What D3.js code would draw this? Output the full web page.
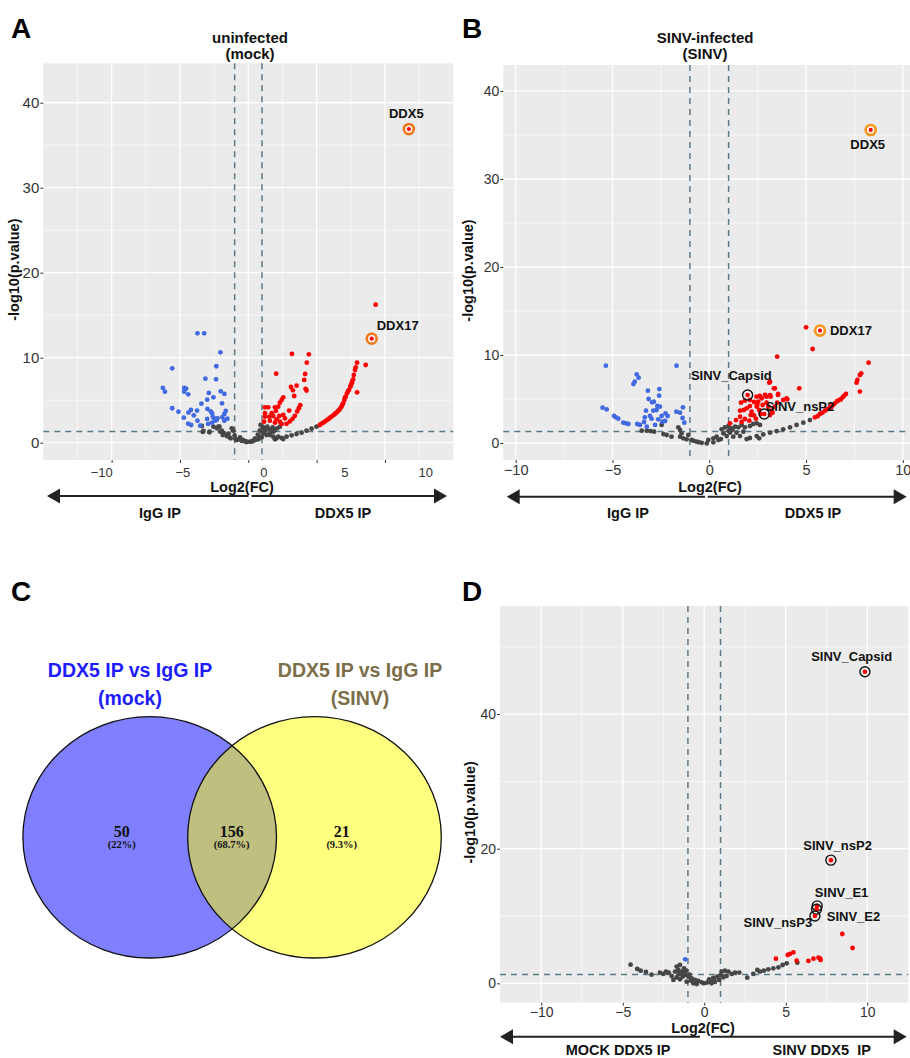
<!DOCTYPE html>
<html>
<head>
<meta charset="utf-8">
<script src="https://cdn.jsdelivr.net/npm/d3@7"></script>
<style>
body { margin: 0; background: #fff; }
svg { display: block; font-family: "Liberation Sans", Arial, sans-serif; }
</style>
</head>
<body>
<svg id="fig" width="910" height="1058"></svg>
<script>
// ---- thresholds ----
const fcCut = 1;
const pCut = 1.3;

// ---- panel A: uninfected (mock), [log2FC, -log10 p] ----
const mockGray = [
	[-3.40,1.96],[-3.33,1.26],[-2.85,1.22],[-2.19,1.88],[-2.07,1.30],[-1.87,0.90],[-1.58,0.78],[-1.29,0.51],
	[-0.85,0.31],[-0.48,0.20],[-0.11,0.08],[0.13,0.12],[0.49,0.31],[0.74,0.39],[0.98,0.63],[1.10,1.10],
	[1.22,1.41],[1.34,1.69],[1.59,0.90],[1.83,0.71],[2.07,0.51],[2.56,0.43],[-3.28,1.37],[-2.84,1.29],
	[-2.55,1.88],[-2.31,1.69],[-2.11,1.88],[-1.94,1.41],[-1.77,1.10],[-1.38,0.63],[-1.21,1.69],[-1.09,1.41],
	[-0.60,0.63],[-0.36,0.31],[-0.12,0.12],[0.24,0.12],[0.61,0.39],[0.90,2.08],[1.05,1.88],[1.22,1.69],
	[1.39,1.88],[1.58,1.57],[1.78,1.80],[1.95,1.49],[2.12,1.69],[2.31,1.88],[0.98,1.29],[1.15,1.10],
	[1.34,0.90],[1.58,1.10],[1.83,1.29],[0.81,0.71],[0.49,0.51],[0.37,0.24],[1.95,0.39],[2.19,0.71],
	[2.44,0.55],[2.80,0.71],[3.17,0.86],[3.53,1.02],[3.90,1.18],[4.26,1.41],[4.63,1.65],[4.99,1.88],
	[-0.95,0.45],[-0.70,0.38],[-0.25,0.15],[0.35,0.22],[0.70,0.95],[0.85,1.45],[-1.00,0.85],[-1.45,1.05]
];
const mockBlue = [
	[-3.72,12.87],[-3.23,12.87],[-2.04,10.63],[-5.57,8.75],[-2.34,8.99],[-3.14,7.53],[-2.36,7.45],[-6.25,6.44],
	[-6.10,6.00],[-4.69,6.44],[-4.55,6.36],[-4.69,6.00],[-4.40,5.69],[-2.02,6.04],[-1.75,5.73],[-2.89,5.85],
	[-2.55,5.34],[-3.01,5.06],[-3.43,4.59],[-1.92,4.63],[-5.57,4.05],[-5.11,3.65],[-2.99,3.97],[-4.20,3.85],
	[-4.38,3.54],[-3.75,3.77],[-3.99,3.22],[-2.75,3.69],[-2.65,3.46],[-1.65,3.73],[-1.75,3.38],[-4.72,2.94],
	[-3.72,2.59],[-3.01,2.79],[-2.60,3.07],[-2.50,2.86],[-2.31,2.67],[-2.26,2.86],[-2.43,2.59],[-1.90,3.00],
	[-1.53,2.82],[-1.75,2.59],[-4.40,2.24],[-4.18,2.08],[-3.52,2.00],[-2.94,2.20],[-2.65,2.35]
];
const mockRed = [
	[9.32,16.24],[3.19,10.44],[4.43,10.40],[4.28,9.41],[4.16,8.08],[4.09,7.38],[2.04,8.12],[4.19,6.33],
	[4.26,6.14],[3.12,6.55],[3.53,6.71],[3.26,6.16],[3.36,5.49],[2.56,5.33],[2.44,5.02],[2.31,4.71],
	[3.80,4.41],[3.70,4.06],[3.58,3.67],[3.41,3.16],[3.24,2.81],[3.04,2.50],[2.80,2.22],[1.22,4.16],
	[1.46,4.16],[1.95,4.16],[2.19,4.24],[2.99,3.77],[2.02,3.73],[1.71,3.46],[1.83,3.14],[2.27,3.14],
	[1.54,3.06],[1.22,3.06],[2.56,3.26],[2.68,2.86],[2.07,2.75],[1.58,2.59],[1.15,2.47],[2.31,2.47],
	[1.95,2.35],[2.44,2.20],[1.22,3.46],
	[7.96,9.41],[7.86,8.86],[7.81,8.55],[8.59,9.14],[7.72,7.96],[7.67,7.45],[7.57,6.98],[7.47,6.59],
	[7.96,5.92],[7.37,6.20],[7.22,5.81],[7.13,5.41],[7.03,5.02],[6.94,4.63],[6.82,4.24],[6.65,3.84],
	[6.45,3.53],[6.25,3.26],[6.01,2.98],[5.77,2.67],[5.48,2.35],[5.23,2.08],[7.30,6.05],[7.08,5.30],
	[6.88,4.45],[6.72,4.00],[6.55,3.70],[6.35,3.40],[6.12,3.10],[5.90,2.82],[5.62,2.50],[5.35,2.22],
	[7.50,6.75],[7.60,7.20]
];
const mockHits = [
	{ gene: 'DDX5', x: 11.75, y: 36.9 },
	{ gene: 'DDX17', x: 9.03, y: 12.24 }
];

// ---- panel B: SINV-infected ----
const sinvGray = [
	[-3.49,1.40],[-3.23,1.40],[-3.03,1.36],[-2.85,1.29],[-2.46,2.05],[-2.37,1.02],[-2.20,0.91],[-1.95,0.72],
	[-1.60,1.78],[-1.51,1.48],[-1.43,1.10],[-1.51,0.72],[-1.34,0.53],[-1.17,0.42],[-1.08,0.91],[-0.91,0.34],
	[-0.65,0.15],[-0.39,0.02],[-0.13,-0.05],[0.21,0.08],[0.47,0.34],[0.64,1.55],[0.81,1.78],[0.99,1.93],
	[1.16,1.67],[1.33,1.86],[1.50,1.78],[1.67,2.05],[1.84,1.78],[2.10,1.93],[2.27,2.16],[2.45,2.24],
	[2.62,2.05],[0.73,1.10],[1.07,1.17],[1.41,1.17],[1.76,1.29],[0.38,0.72],[0.21,0.53],[0.90,0.79],
	[1.24,0.72],[1.59,0.79],[-0.05,0.34],[1.93,0.45],[2.58,0.53],[2.10,0.57],[2.45,0.79],[2.79,0.98],
	[3.14,1.17],[3.48,1.36],[3.82,1.55],[4.17,1.78],[4.51,2.05],[4.86,2.31],[5.20,2.61],
	[-0.80,0.25],[-0.55,0.10],[0.60,0.45],[1.00,1.40],[1.20,1.50]
];
const sinvBlue = [
	[-5.34,8.79],[-1.69,8.79],[-3.75,7.80],[-3.65,7.42],[-3.85,6.97],[-3.92,6.70],[-3.17,5.95],[-2.58,6.13],
	[-2.59,5.38],[-3.13,5.00],[-2.95,4.62],[-2.86,4.70],[-2.68,4.21],[-2.55,4.13],[-2.72,3.75],[-5.51,4.01],
	[-5.30,3.82],[-3.27,3.67],[-2.89,3.67],[-1.70,3.56],[-1.51,3.45],[-1.36,4.05],[-2.26,3.37],[-2.15,3.07],
	[-3.06,3.07],[-2.98,2.77],[-3.33,2.92],[-2.46,3.07],[-2.64,2.69],[-4.92,3.07],[-4.82,2.92],[-4.70,2.77],
	[-4.44,2.31],[-4.30,2.24],[-4.18,2.16],[-3.72,2.16],[-3.58,2.05],[-3.37,2.39],[-2.43,2.43],[-2.28,2.50],
	[-1.38,2.84],[-1.29,2.31],[-2.80,2.05],[-3.23,1.86]
];
const sinvRed = [
	[5.34,10.68],[3.51,9.81],[8.23,9.13],[7.85,7.92],[7.78,7.73],[7.65,7.16],[7.61,6.86],[7.78,5.84],
	[3.10,6.86],[4.65,6.21],[3.34,6.21],[3.55,5.46],[3.17,5.27],[2.88,5.46],[2.71,5.08],[2.53,4.70],
	[2.45,4.14],[1.59,3.67],[1.79,3.75],[1.93,3.94],[2.10,4.20],[2.19,3.56],[2.31,3.14],[2.41,2.77],
	[2.58,3.75],[2.65,3.30],[2.76,4.32],[2.96,4.58],[3.05,4.13],[3.22,3.67],[3.39,4.13],[3.51,4.58],
	[4.03,4.96],[1.59,2.99],[1.84,2.73],[2.07,2.54],[2.14,3.18],[1.07,2.24],[1.67,2.39],[1.38,2.61],
	[2.31,4.66],[2.48,4.32],[3.14,3.18],[3.27,3.45],[1.64,4.58],[1.84,4.81],[2.10,4.89],[2.44,5.27],
	[2.61,5.34],[2.96,5.27],[3.14,5.45],[3.39,6.21],[3.56,5.57],[3.82,4.89],[3.99,5.08],[3.14,6.97],
	[5.00,13.14],
	[5.46,2.92],[5.72,3.30],[5.98,3.67],[6.24,4.13],[6.49,4.51],[6.72,4.89],[6.89,5.19],[7.06,5.57],
	[5.60,3.05],[6.10,3.85],[6.38,4.30],[6.60,4.75],[6.95,5.35],[6.80,4.95],[5.85,3.45],[6.30,4.05]
];
const sinvHits = [
	{ gene: 'DDX5', x: 8.34, y: 35.57 },
	{ gene: 'DDX17', x: 5.72, y: 12.77 }
];
const sinvViral = [
	{ gene: 'SINV_Capsid', x: 1.98, y: 5.45 },
	{ gene: 'SINV_nsP2', x: 2.84, y: 3.30 }
];

// ---- panel C: overlap of enriched proteins ----
const vennTitles = ['DDX5 IP vs IgG IP', 'DDX5 IP vs IgG IP'];
const vennSubs = ['(mock)', '(SINV)'];
const vennCounts = [50, 156, 21];
const vennPcts = ['(22%)', '(68.7%)', '(9.3%)'];

// ---- panel D: SINV DDX5 IP vs mock DDX5 IP ----
const diffGray = [
	[-4.52,2.77],[-4.11,2.13],[-3.90,1.88],[-3.58,1.69],[-3.23,1.29],[-2.72,1.59],[-2.52,1.39],[-2.35,1.74],
	[-2.18,1.59],[-2.00,1.09],[-1.79,1.74],[-1.69,2.48],[-1.59,1.98],[-1.49,2.72],[-1.38,1.74],[-1.24,2.23],
	[-1.17,1.24],[-0.97,0.99],[-0.77,0.74],[-0.56,0.50],[-0.36,0.35],[-0.16,0.15],[-0.02,0.00],[0.15,0.10],
	[0.35,0.25],[0.60,0.50],[0.80,0.99],[1.07,1.74],[1.27,1.88],[1.48,1.74],[1.68,1.39],[1.89,1.59],
	[2.15,1.59],[2.64,0.84],[3.01,1.39],[3.26,1.98],[3.42,1.74],[3.66,1.88],[3.93,2.08],[4.24,2.23],
	[4.55,2.38],[4.81,2.72],[5.06,2.97],[5.71,3.07],[-1.89,0.50],[-1.69,0.89],[-1.49,0.60],[-1.32,0.99],
	[-1.08,0.25],[-0.83,0.40],[-0.67,0.00],[-0.46,-0.10],[0.45,0.00],[0.66,0.20],[0.92,0.50],[1.17,0.89],
	[1.37,1.09],[-1.55,1.35],[-1.25,1.55],[-1.10,1.90],[-0.90,1.30],[0.30,0.60],[0.55,0.80],[1.00,1.20]
];
const diffBlue = [[-1.17,3.57]];
const diffRed = [
	[4.40,3.66],[5.12,4.21],[5.26,4.36],[5.47,4.61],[5.67,3.37],[6.39,3.32],[6.70,3.66],[7.01,3.81],
	[7.11,3.66],[7.14,3.47],[8.47,7.33],[9.10,5.25]
];
const diffViral = [
	{ gene: 'SINV_Capsid', x: 9.86, y: 46.3 },
	{ gene: 'SINV_nsP2', x: 7.77, y: 18.3 },
	{ gene: 'SINV_E1', x: 6.93, y: 11.5 },
	{ gene: 'SINV_E2', x: 6.89, y: 11.0 },
	{ gene: 'SINV_nsP3', x: 6.79, y: 10.0 }
];

const svg = d3.select('#fig');

function volcano (p) {
	const g = svg.append('g');
	const x = d3.scaleLinear().domain(p.xDomain).range([p.left, p.right]);
	const y = d3.scaleLinear().domain(p.yDomain).range([p.bottom, p.top]);
	// tick labels sit on their own scale (in panel A they are shifted against the grid)
	const xLab = d3.scaleLinear().domain(p.xDomain).range(p.labRange || [p.left, p.right]);

	g.append('rect')
		.attr('x', p.left).attr('y', p.top)
		.attr('width', p.right - p.left).attr('height', p.bottom - p.top)
		.attr('fill', '#ebebeb');

	const vgrid = (vals, w) => g.append('g').selectAll('line').data(vals).join('line')
		.attr('x1', d => x(d)).attr('x2', d => x(d))
		.attr('y1', p.top).attr('y2', p.bottom)
		.attr('stroke', '#fff').attr('stroke-width', w);
	const hgrid = (vals, w) => g.append('g').selectAll('line').data(vals).join('line')
		.attr('y1', d => y(d)).attr('y2', d => y(d))
		.attr('x1', p.left).attr('x2', p.right)
		.attr('stroke', '#fff').attr('stroke-width', w);
	vgrid(p.xMinor, 0.6); hgrid(p.yMinor, 0.6);
	vgrid(p.xTicks, 1.3); hgrid(p.yTicks, 1.3);

	// cut-off lines
	g.append('g').selectAll('line').data([-fcCut, fcCut]).join('line')
		.attr('x1', d => x(d)).attr('x2', d => x(d))
		.attr('y1', p.top).attr('y2', p.bottom)
		.attr('stroke', '#5d7889').attr('stroke-width', 1.5).attr('stroke-dasharray', '6,5');
	g.append('line')
		.attr('x1', p.left).attr('x2', p.right)
		.attr('y1', y(pCut)).attr('y2', y(pCut))
		.attr('stroke', '#5d7889').attr('stroke-width', 1.5).attr('stroke-dasharray', '6,5');

	const dots = (data, color) => g.append('g').selectAll('circle').data(data).join('circle')
		.attr('cx', d => x(d[0])).attr('cy', d => y(d[1]))
		.attr('r', 2.4).attr('fill', color);
	dots(p.gray, '#464646');
	dots(p.blue, '#4169e1');
	dots(p.red, '#ff0000');

	// highlighted host proteins
	const hits = g.append('g').selectAll('g').data(p.hits || []).join('g')
		.attr('transform', d => `translate(${x(d.x)},${y(d.y)})`);
	hits.append('circle').attr('r', 6.3).attr('fill', p.hitColor);
	hits.append('circle').attr('r', 3.6).attr('fill', '#fff');
	hits.append('circle').attr('r', 2.1).attr('fill', '#ff0000');

	// viral proteins
	const vir = g.append('g').selectAll('g').data(p.viral || []).join('g')
		.attr('transform', d => `translate(${x(d.x)},${y(d.y)})`);
	vir.append('circle').attr('r', 2.3).attr('fill', '#ff0000');
	vir.append('circle').attr('r', 5).attr('fill', 'none').attr('stroke', '#111').attr('stroke-width', 1.4);

	const labs = [...(p.hits || []), ...(p.viral || [])];
	g.append('g').selectAll('text').data(labs).join('text')
		.attr('x', d => x(d.x) + p.labelOff[d.gene][0])
		.attr('y', d => y(d.y) + p.labelOff[d.gene][1])
		.attr('dy', '0.35em')
		.attr('text-anchor', d => p.labelOff[d.gene][2])
		.style('font-size', '13px').style('font-weight', 'bold').attr('fill', '#111')
		.text(d => d.gene);

	// axes
	const yAxis = g.append('g').attr('transform', `translate(${p.left},0)`)
		.call(d3.axisLeft(y).tickValues(p.yTicks).tickSize(3).tickPadding(1));
	const xTicks = g.append('g').attr('transform', `translate(0,${p.bottom})`)
		.call(d3.axisBottom(x).tickValues(p.xTicks).tickSize(3).tickFormat(''));
	const xAxis = g.append('g').attr('transform', `translate(0,${p.bottom})`)
		.call(d3.axisBottom(xLab).tickValues(p.xTicks).tickSize(0).tickPadding(p.xPad));
	[yAxis, xTicks, xAxis].forEach(a => {
		a.attr('font-family', null).attr('font-size', null);
		a.select('.domain').remove();
		a.selectAll('line').attr('stroke', '#333');
		a.selectAll('text').attr('fill', '#333');
	});
	xAxis.selectAll('line').remove();
	yAxis.selectAll('text').style('font-size', p.yFont + 'px');
	xAxis.selectAll('text').style('font-size', p.xFont + 'px');

	// titles
	const bold = sel => sel.style('font-weight', 'bold').attr('fill', '#111').attr('text-anchor', 'middle');
	g.append('text').call(bold).style('font-size', '14.5px')
		.attr('transform', `translate(${p.yTitleX},${(p.top + p.bottom) / 2 + 8})rotate(-90)`)
		.attr('dy', '0.35em')
		.text('-log10(p.value)');
	g.append('text').call(bold).style('font-size', '14.5px')
		.attr('x', p.xTitleX).attr('y', p.xTitleY).attr('dy', '0.35em')
		.text('Log2(FC)');
	if (p.title) {
		g.selectAll('text.ptitle').data(p.title).join('text').call(bold).style('font-size', '15px')
			.attr('x', (p.left + p.right) / 2 + p.titleDx)
			.attr('y', (d, i) => 38 + i * 15.5).attr('dy', '0.35em')
			.text(d => d);
	}

	// direction arrow under the x axis
	const a = p.arrow;
	const ar = g.append('g');
	ar.append('line').attr('x1', a.x0 + 10).attr('x2', a.gap[0]).attr('y1', a.y).attr('y2', a.y)
		.attr('stroke', '#222').attr('stroke-width', 2);
	ar.append('line').attr('x1', a.gap[1]).attr('x2', a.x1 - 10).attr('y1', a.y).attr('y2', a.y)
		.attr('stroke', '#222').attr('stroke-width', 2);
	ar.append('path').attr('fill', '#222')
		.attr('d', `M${a.x0},${a.y}L${a.x0 + 13},${a.y - 7.5}L${a.x0 + 13},${a.y + 7.5}Z`);
	ar.append('path').attr('fill', '#222')
		.attr('d', `M${a.x1},${a.y}L${a.x1 - 13},${a.y - 7.5}L${a.x1 - 13},${a.y + 7.5}Z`);
	ar.selectAll('text.side').data(a.sides).join('text').call(bold).style('font-size', '14.5px')
		.style('white-space', 'pre')
		.attr('x', d => d[1]).attr('y', a.y + a.sideDy).attr('dy', '0.35em')
		.text(d => d[0]);
}

volcano({
	left: 43.3, right: 453.3, top: 63.3, bottom: 460,
	xDomain: [-15, 15], yDomain: [-2.04, 44.64],
	labRange: [20.3, 506.3],
	xTicks: [-10, -5, 0, 5, 10], xMinor: [-12.5, -7.5, -2.5, 2.5, 7.5, 12.5],
	yTicks: [0, 10, 20, 30, 40], yMinor: [5, 15, 25, 35],
	yFont: 15, xFont: 13, xPad: 8,
	gray: mockGray, blue: mockBlue, red: mockRed,
	hits: mockHits, hitColor: '#ec7a1d',
	labelOff: { DDX5: [-2.6, -16, 'middle'], DDX17: [5, -13, 'start'] },
	yTitleX: 14, xTitleX: 242, xTitleY: 486.7,
	title: ['uninfected', '(mock)'], titleDx: 1.7,
	arrow: { x0: 47, x1: 447, y: 496, gap: [248.5, 251.5], sideDy: 16.7, sides: [['IgG IP', 160], ['DDX5 IP', 343]] }
});

volcano({
	left: 503.3, right: 910, top: 65, bottom: 460,
	xDomain: [-10.64, 10.37], yDomain: [-1.93, 42.95],
	xTicks: [-10, -5, 0, 5, 10], xMinor: [-7.5, -2.5, 2.5, 7.5],
	yTicks: [0, 10, 20, 30, 40], yMinor: [5, 15, 25, 35],
	yFont: 14, xFont: 14.5, xPad: 5,
	gray: sinvGray, blue: sinvBlue, red: sinvRed,
	hits: sinvHits, hitColor: '#f8961e', viral: sinvViral,
	labelOff: {
		DDX5: [-3, 14, 'middle'], DDX17: [10, 0, 'start'],
		SINV_Capsid: [-56.7, -20, 'start'], SINV_nsP2: [1.4, -8, 'start']
	},
	yTitleX: 468, xTitleX: 710, xTitleY: 486.7,
	title: ['SINV-infected', '(SINV)'], titleDx: -1.6,
	arrow: { x0: 506.7, x1: 906.7, y: 496.7, gap: [705, 707.7], sideDy: 16, sides: [['IgG IP', 628], ['DDX5 IP', 813]] }
});

volcano({
	left: 500, right: 908.3, top: 606, bottom: 1002.7,
	xDomain: [-12.53, 12.52], yDomain: [-2.88, 56.06],
	xTicks: [-10, -5, 0, 5, 10], xMinor: [-7.5, -2.5, 2.5, 7.5],
	yTicks: [0, 20, 40], yMinor: [10, 30, 50],
	yFont: 14, xFont: 14, xPad: 4.5,
	gray: diffGray, blue: diffBlue, red: diffRed,
	viral: diffViral,
	labelOff: {
		SINV_Capsid: [-13.3, -15.7, 'middle'], SINV_nsP2: [6.7, -15, 'middle'],
		SINV_E1: [24.4, -13.3, 'middle'], SINV_E2: [37, 7.4, 'middle'], SINV_nsP3: [-37, 6.7, 'middle']
	},
	yTitleX: 470, xTitleX: 703, xTitleY: 1028,
	arrow: { x0: 500, x1: 906.7, y: 1036.7, gap: [700, 711], sideDy: 13.3, sides: [['MOCK DDX5 IP', 618], ['SINV DDX5  IP', 821.7]] }
});

// ---- Venn diagram (panel C) ----
const venn = svg.append('g');
const vx = d3.scaleLinear().domain([0, 1]).range([149.7, 314.5]);
const vennCy = 837.3;
const vennFill = ['#0000ff', '#ffff00'];
venn.selectAll('ellipse.fill').data(vennFill).join('ellipse')
	.attr('cx', (d, i) => vx(i)).attr('cy', vennCy)
	.attr('rx', 126.8).attr('ry', 120.7)
	.attr('fill', d => d).attr('fill-opacity', 0.5);
venn.selectAll('ellipse.edge').data(vennFill).join('ellipse')
	.attr('cx', (d, i) => vx(i)).attr('cy', vennCy)
	.attr('rx', 126.8).attr('ry', 120.7)
	.attr('fill', 'none').attr('stroke', '#111').attr('stroke-width', 1.3);

const titleCol = ['#1c1cff', '#7b6e48'];
const titleX = [130, 360];
venn.selectAll('text.vt').data(vennTitles).join('text')
	.attr('x', (d, i) => titleX[i]).attr('y', 670).attr('dy', '0.35em')
	.attr('text-anchor', 'middle').attr('fill', (d, i) => titleCol[i])
	.style('font-size', '19.5px').style('font-weight', 'bold')
	.text(d => d);
venn.selectAll('text.vs').data(vennSubs).join('text')
	.attr('x', (d, i) => titleX[i]).attr('y', 698.3).attr('dy', '0.35em')
	.attr('text-anchor', 'middle').attr('fill', (d, i) => titleCol[i])
	.style('font-size', '19.5px').style('font-weight', 'bold')
	.text(d => d);

const countX = [121.7, 231.7, 341.7];
venn.selectAll('text.vc').data(vennCounts).join('text')
	.attr('x', (d, i) => countX[i]).attr('y', 831.7).attr('dy', '0.35em')
	.attr('text-anchor', 'middle').attr('fill', '#111')
	.style('font-family', '"Liberation Serif", "DejaVu Serif", serif')
	.style('font-size', '16px').style('font-weight', 'bold')
	.text(d => d);
venn.selectAll('text.vp').data(vennPcts).join('text')
	.attr('x', (d, i) => countX[i]).attr('y', 844.5).attr('dy', '0.35em')
	.attr('text-anchor', 'middle').attr('fill', '#111')
	.style('font-family', '"Liberation Serif", "DejaVu Serif", serif')
	.style('font-size', '10.5px').style('font-weight', 'bold')
	.text(d => d);

// ---- panel letters ----
const letters = [['A', 11, 38], ['B', 462, 38], ['C', 11, 601], ['D', 462, 601]];
svg.selectAll('text.letter').data(letters).join('text')
	.attr('x', d => d[1]).attr('y', d => d[2])
	.style('font-size', '28px').style('font-weight', 'bold').attr('fill', '#000')
	.text(d => d[0]);
</script>
</body>
</html>
